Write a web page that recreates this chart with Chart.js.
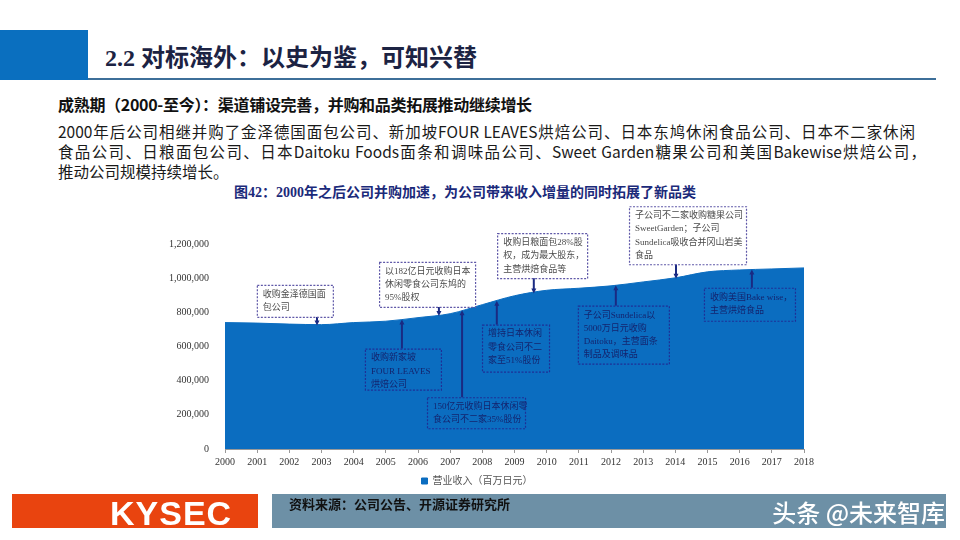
<!DOCTYPE html>
<html><head><meta charset="utf-8">
<script src="https://cdn.jsdelivr.net/npm/chart.js@4/dist/chart.umd.min.js"></script>
<style>
html,body{margin:0;padding:0;background:#fff;}
body{width:960px;height:540px;position:relative;overflow:hidden;font-family:"Noto Sans CJK SC",sans-serif;}
.abs{position:absolute;}
#blk{left:0;top:30px;width:88px;height:50px;background:#0a6fbf;}
#ttl{left:105px;top:38px;font:bold 24px "Liberation Serif","Noto Sans CJK SC";color:#1c2343;white-space:nowrap;}
#rule{left:88px;top:78px;width:848px;height:2px;background:#3d6f99;}
#sub{left:58px;top:92px;font:bold 16px "Noto Sans CJK SC";color:#111;white-space:nowrap;letter-spacing:-0.3px;}
.p{left:58px;font:15.5px "Noto Sans CJK SC";color:#1a1a1a;line-height:20px;white-space:nowrap;}
.j{text-align:justify;text-align-last:justify;white-space:normal;}
#cap{left:0;width:930px;top:181px;text-align:center;font:bold 14px "Liberation Serif","Noto Sans CJK SC";color:#1b2a7a;}
#wrap{left:150px;top:198px;width:680px;height:301px;}
#org{left:12px;top:494px;width:246px;height:34px;background:#e9440f;}
#ky{left:110px;top:494px;height:34px;line-height:35px;font:bold 34px "Liberation Sans",Arial;color:#fff;letter-spacing:1px;}
#gry{left:272px;top:494px;width:674px;height:34px;background:#6d90a6;}
#src{left:289px;top:494px;line-height:34px;font:bold 13px "Liberation Serif","Noto Sans CJK SC";color:#111;}
#wm{right:15px;top:494px;line-height:34px;font:500 24px "Noto Sans CJK SC";color:#fff;white-space:nowrap;}
</style></head>
<body>
<div id="blk" class="abs"></div>
<div id="ttl" class="abs">2.2 对标海外：以史为鉴，可知兴替</div>
<div id="rule" class="abs"></div>
<div id="sub" class="abs">成熟期（2000-至今）：渠道铺设完善，并购和品类拓展推动继续增长</div>
<div class="abs p j" style="top:121px;width:857px;">2000年后公司相继并购了金泽德国面包公司、新加坡FOUR LEAVES烘焙公司、日本东鸠休闲食品公司、日本不二家休闲</div>
<div class="abs p j" style="top:141px;width:868px;">食品公司、日粮面包公司、日本Daitoku Foods面条和调味品公司、Sweet Garden糖果公司和美国Bakewise烘焙公司，</div>
<div class="abs p" style="top:161px;">推动公司规模持续增长。</div>
<div id="cap" class="abs">图42：2000年之后公司并购加速，为公司带来收入增量的同时拓展了新品类</div>
<div id="wrap" class="abs"><canvas id="c"></canvas></div>
<div id="org" class="abs"></div>
<div id="ky" class="abs">KYSEC</div>
<div id="gry" class="abs"></div>
<div id="src" class="abs">资料来源：公司公告、开源证券研究所</div>
<div id="wm" class="abs">头条 @未来智库</div>
<script>
// ---- data ----
const years = [2000,2001,2002,2003,2004,2005,2006,2007,2008,2009,2010,2011,2012,2013,2014,2015,2016,2017,2018];
const revenue = [740000,737000,731000,728000,740000,748000,769000,792000,845000,897000,929000,941000,955000,978000,1002000,1037000,1048000,1054000,1060000];
const seriesLabel = '营业收入（百万日元）';
const yTicks = [0,200000,400000,600000,800000,1000000,1200000];

// acquisition notes: text lines, year the arrow points to, box anchor (year, value), box size
const notes = [
  {lines:['收购金泽德国面','包公司'], at:2002.86, left:2000.99, top:961000, w:76, h:32, above:true},
  {lines:['以182亿日元收购日本','休闲零食公司东鸠的','95%股权'], at:2006.65, left:2004.79, top:1095000, w:96, h:45, above:true},
  {lines:['收购日粮面包28%股','权，成为最大股东，','主营烘焙食品等'], at:2009.6, left:2008.46, top:1264000, w:90, h:45, above:true},
  {lines:['子公司不二家收购糖果公司','SweetGarden；子公司','Sundelica吸收合并冈山岩美','食品'], at:2014.02, left:2012.56, top:1421000, w:117, h:58, above:true},
  {lines:['收购新家坡','FOUR LEAVES','烘焙公司'], at:2005.5, left:2004.35, top:588000, w:76, h:41, above:false},
  {lines:['150亿元收购日本休闲零','食公司不二家35%股份'], at:2007.37, left:2006.28, top:303000, w:98, h:31, above:false},
  {lines:['增持日本休闲','零食公司不二','家至51%股份'], at:2008.45, left:2007.99, top:728000, w:67, h:47, above:false},
  {lines:['子公司Sundelica以','5000万日元收购','Daitoku，主营面条','制品及调味品'], at:2012.15, left:2010.97, top:839000, w:91, h:58, above:false},
  {lines:['收购美国Bake wise，','主营烘焙食品'], at:2016.38, left:2014.89, top:944000, w:91, h:33, above:false}
];

function valueAt(x){
  for(let i=0;i<years.length-1;i++){
    if(x>=years[i] && x<=years[i+1]){
      const t=(x-years[i])/(years[i+1]-years[i]);
      return revenue[i]+(revenue[i+1]-revenue[i])*t;
    }
  }
  return revenue[revenue.length-1];
}

const notePlugin = {
  id:'notes',
  afterDatasetsDraw(chart){
    const ctx=chart.ctx, xs=chart.scales.x, ys=chart.scales.y;
    ctx.save();
    notes.forEach(n=>{
      const bx=xs.getPixelForValue(n.left), by=ys.getPixelForValue(n.top);
      const ax=xs.getPixelForValue(n.at), ay=ys.getPixelForValue(valueAt(n.at));
      ctx.strokeStyle='#1a2a82'; ctx.fillStyle='#1a2a82'; ctx.lineWidth=2; ctx.setLineDash([]);
      ctx.beginPath();
      if(n.above){ ctx.moveTo(ax,by+n.h); ctx.lineTo(ax,ay-2); }
      else { ctx.moveTo(ax,by); ctx.lineTo(ax,ay+3); }
      ctx.stroke();
      ctx.beginPath();
      if(n.above){ ctx.moveTo(ax-2.5,ay-4); ctx.lineTo(ax+2.5,ay-4); ctx.lineTo(ax,ay+1); }
      else { ctx.moveTo(ax-2.5,ay+5); ctx.lineTo(ax+2.5,ay+5); ctx.lineTo(ax,ay); }
      ctx.closePath(); ctx.fill();
      if(n.above){ ctx.fillStyle='#ffffff'; ctx.fillRect(bx,by,n.w,n.h); }
      ctx.lineWidth=1.2; ctx.setLineDash([2,1.5]);
      ctx.strokeStyle = n.above ? '#5f58a8' : '#1f2f96';
      ctx.strokeRect(bx+0.5,by+0.5,n.w,n.h);
      ctx.setLineDash([]);
      ctx.fillStyle = n.above ? '#4a4a4a' : '#14246e';
      ctx.font = '9px "Liberation Serif","Noto Sans CJK SC"';
      ctx.textBaseline='middle'; ctx.textAlign='left';
      n.lines.forEach((t,i)=>{ ctx.fillText(t,bx+6,by+9.5+i*13.3); });
    });
    ctx.restore();
  }
};

new Chart(document.getElementById('c'),{
  type:'line',
  data:{datasets:[{
    label:seriesLabel,
    data:years.map((y,i)=>({x:y,y:revenue[i]})),
    fill:'origin',
    backgroundColor:'#0b6dc0',
    borderColor:'#0b6dc0',
    borderWidth:1,
    pointRadius:0,
    cubicInterpolationMode:'monotone'
  }]},
  options:{
    responsive:true, maintainAspectRatio:false, animation:false,
    layout:{padding:{top:46,right:26,left:0,bottom:3}},
    plugins:{
      tooltip:{enabled:false},
      legend:{position:'bottom',labels:{boxWidth:6,boxHeight:6,padding:5,color:'#555',font:{size:10,family:'"Liberation Serif","Noto Sans CJK SC"'}}}
    },
    scales:{
      x:{type:'linear',min:2000,max:2018,
        afterBuildTicks(s){ s.ticks = years.map(v=>({value:v})); },
        ticks:{color:'#333',padding:3,maxRotation:0,autoSkip:false,font:{size:10,family:'"Liberation Serif"'},callback:v=>String(v)},
        grid:{drawOnChartArea:false,drawTicks:true,tickLength:4,color:'#999'},
        border:{display:true,color:'#999'}
      },
      y:{min:0,max:1200000,
        afterBuildTicks(s){ s.ticks = yTicks.map(v=>({value:v})); },
        afterFit(s){ s.width=75; },
        ticks:{color:'#333',padding:8,font:{size:10,family:'"Liberation Serif"'},callback:v=>v.toLocaleString('en-US')},
        grid:{display:false},
        border:{display:false}
      }
    }
  },
  plugins:[notePlugin]
});
</script>
</body></html>
